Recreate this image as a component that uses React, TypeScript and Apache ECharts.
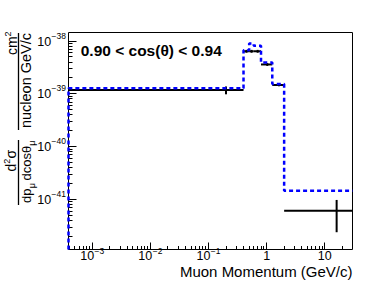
import React, { useEffect, useRef } from 'react';
import * as echarts from 'echarts';

// Histogram binning (GeV/c) and values (cm^2 / nucleon GeV/c)
const binEdges = [0, 0.4, 0.5, 0.6, 0.8, 1.25, 2, 30];
const dataCenters = [0.2, 0.45, 0.55, 0.7, 1.025, 1.625, 16];
const dataValues = [1.18e-39, 6.4e-39, 6.4e-39, 6.4e-39, 3.6e-39, 1.47e-39, 6.1e-42];
const dataErrors = [0.2e-39, 0.4e-39, 0.4e-39, 0.4e-39, 0.22e-39, 0.08e-39, 3.7e-42];
const mcValues = [1.27e-39, 6.7e-39, 9.0e-39, 8.1e-39, 3.9e-39, 1.53e-39, 1.46e-41];

const xMajorTicks = [1e-3, 1e-2, 1e-1, 1, 10];
const xTickBases = ['10', '10', '10', '1', '10'];
const xTickExps = ['\u22123', '\u22122', '\u22121', '', ''];
const yMajorTicks = [1e-41, 1e-40, 1e-39, 1e-38];
const yTickBases = ['10', '10', '10', '10'];
const yTickExps = ['\u221241', '\u221240', '\u221239', '\u221238'];

const X_MIN = 3.9e-4;
const X_MAX = 30;
const Y_MIN = 1.13e-42;
const Y_MAX = 1.45e-38;

const FONT = 'Liberation Sans, Arial, Helvetica, sans-serif';
const FB = 12.5; // tick label base size
const FE = 8.5; // exponent size

function strWidth(s: string, size: number) {
  let w = 0;
  for (const ch of s) w += ch === '\u2212' ? 0.584 : 0.556;
  return w * size;
}

function minorTicks(lo: number, hi: number, fromExp: number, toExp: number) {
  const out: number[] = [];
  for (let e = fromExp; e <= toExp; e++) {
    for (let k = 2; k <= 9; k++) {
      const v = k * Math.pow(10, e);
      if (v > lo && v < hi) out.push(v);
    }
  }
  return out;
}

export default function App() {
  const ref = useRef<HTMLDivElement>(null);
  useEffect(() => {
    if (!ref.current) return;
    const chart = echarts.init(ref.current, null, { renderer: 'svg' });

    const histPoints: number[][] = [[X_MIN, Y_MIN]];
    for (let i = 0; i < mcValues.length; i++) {
      const lo = i === 0 ? X_MIN : binEdges[i];
      histPoints.push([lo, mcValues[i]]);
      histPoints.push([binEdges[i + 1], mcValues[i]]);
    }

    const errData = dataValues.map((v, i) => [dataCenters[i], v, binEdges[i], binEdges[i + 1], dataErrors[i]]);

    const xTickData = [
      ...xMajorTicks.map((v) => [v, Y_MIN, 1]),
      ...minorTicks(X_MIN, X_MAX, -4, 1).map((v) => [v, Y_MIN, 0]),
    ];
    const yTickData = [
      ...yMajorTicks.map((v) => [X_MIN, v, 1]),
      ...minorTicks(Y_MIN, Y_MAX, -42, -39).map((v) => [X_MIN, v, 0]),
    ];

    const crisp = (x: number) => Math.round(x - 0.5) + 0.5;

    // y title (rotated group, local u along text, v across)
    const T = 14;
    const TD = 13;
    const TS = 9;
    const titleChildren: any[] = [];
    const txt = (u: number, v: number, text: string, size: number, align = 'left') => ({
      type: 'text',
      x: u,
      y: v,
      style: { text, fontSize: size, fontFamily: FONT, fill: '#000', align, verticalAlign: 'middle' },
    });
    // lower fraction
    titleChildren.push(txt(33.5, 11, 'd', T));
    titleChildren.push(txt(41.3, 7, '2', TS));
    titleChildren.push(txt(46.5, 11, '\u03c3', T));
    titleChildren.push({ type: 'line', shape: { x1: 0, y1: 18.5, x2: 65, y2: 18.5 }, style: { stroke: '#000', lineWidth: 1.3 } });
    titleChildren.push(txt(2, 26, 'dp', TD));
    titleChildren.push(txt(16.8, 31.5, '\u03bc', TS));
    titleChildren.push(txt(24.5, 26, 'dcos\u03b8', TD));
    titleChildren.push(txt(59.2, 31.5, '\u03bc', TS));
    // upper fraction
    titleChildren.push(txt(150, 12, 'cm', T));
    titleChildren.push(txt(168.5, 8, '2', TS));
    titleChildren.push({ type: 'line', shape: { x1: 75, y1: 18.5, x2: 172, y2: 18.5 }, style: { stroke: '#000', lineWidth: 1.3 } });
    titleChildren.push(txt(124.5, 26, 'nucleon GeV/c', 14.5, 'center'));

    chart.setOption({
      animation: false,
      grid: {
        left: 68.5,
        top: 32.5,
        right: 34.5,
        bottom: 33.5,
        show: true,
        borderColor: '#000',
        borderWidth: 1,
        backgroundColor: 'transparent',
      },
      xAxis: {
        type: 'log',
        logBase: 10,
        min: X_MIN,
        max: X_MAX,
        axisLine: { show: false },
        axisTick: { show: false },
        axisLabel: { show: false },
        splitLine: { show: false },
      },
      yAxis: {
        type: 'log',
        logBase: 10,
        min: Y_MIN,
        max: Y_MAX,
        axisLine: { show: false },
        axisTick: { show: false },
        axisLabel: { show: false },
        splitLine: { show: false },
      },
      graphic: [
        {
          type: 'group',
          x: 0,
          y: 205,
          rotation: Math.PI / 2,
          children: titleChildren,
        },
        {
          type: 'text',
          x: 80.7,
          y: 50.3,
          style: {
            text: '0.90 < cos(\u03b8) < 0.94',
            fontSize: 15.5,
            fontWeight: 'bold',
            fontFamily: FONT,
            fill: '#000',
            align: 'left',
            verticalAlign: 'middle',
          },
        },
        {
          type: 'text',
          x: 352.5,
          y: 271.5,
          style: {
            text: 'Muon Momentum (GeV/c)',
            fontSize: 15,
            fontFamily: FONT,
            fill: '#000',
            align: 'right',
            verticalAlign: 'middle',
          },
        },
      ],
      series: [
        {
          type: 'custom',
          name: 'xticks',
          coordinateSystem: 'cartesian2d',
          data: xTickData,
          encode: { x: 0, y: 1 },
          clip: false,
          silent: true,
          renderItem: (params: any, api: any) => {
            const p = api.coord([api.value(0), api.value(1)]);
            const len = api.value(2) ? 7 : 3.5;
            const x = crisp(p[0]);
            return { type: 'line', shape: { x1: x, y1: p[1], x2: x, y2: p[1] - len }, style: { stroke: '#000', lineWidth: 1 } };
          },
        },
        {
          type: 'custom',
          name: 'yticks',
          coordinateSystem: 'cartesian2d',
          data: yTickData,
          encode: { x: 0, y: 1 },
          clip: false,
          silent: true,
          renderItem: (params: any, api: any) => {
            const p = api.coord([api.value(0), api.value(1)]);
            const len = api.value(2) ? 8 : 4;
            const y = crisp(p[1]);
            return { type: 'line', shape: { x1: p[0], y1: y, x2: p[0] + len, y2: y }, style: { stroke: '#000', lineWidth: 1 } };
          },
        },
        {
          type: 'custom',
          name: 'xlabels',
          coordinateSystem: 'cartesian2d',
          data: xMajorTicks.map((v) => [v, Y_MIN]),
          encode: { x: 0, y: 1 },
          clip: false,
          silent: true,
          renderItem: (params: any, api: any) => {
            const i = params.dataIndex;
            const p = api.coord([api.value(0), api.value(1)]);
            const base = xTickBases[i];
            const exp = xTickExps[i];
            const wB = strWidth(base, FB);
            const wE = exp ? strWidth(exp, FE) + 0.5 : 0;
            const x0 = p[0] - (wB + wE) / 2;
            const children: any[] = [
              { type: 'text', x: x0, y: p[1] + 6.5, style: { text: base, fontSize: FB, fontFamily: FONT, fill: '#000', align: 'left', verticalAlign: 'middle' } },
            ];
            if (exp) {
              children.push({ type: 'text', x: x0 + wB + 0.5, y: p[1] + 1.5, style: { text: exp, fontSize: FE, fontFamily: FONT, fill: '#000', align: 'left', verticalAlign: 'middle' } });
            }
            return { type: 'group', children };
          },
        },
        {
          type: 'custom',
          name: 'ylabels',
          coordinateSystem: 'cartesian2d',
          data: yMajorTicks.map((v) => [X_MIN, v]),
          encode: { x: 0, y: 1 },
          clip: false,
          silent: true,
          renderItem: (params: any, api: any) => {
            const i = params.dataIndex;
            const p = api.coord([api.value(0), api.value(1)]);
            const base = yTickBases[i];
            const exp = yTickExps[i];
            const xr = p[0] - 2.5;
            const wE = strWidth(exp, FE);
            return {
              type: 'group',
              children: [
                { type: 'text', x: xr, y: p[1] - 5.5, style: { text: exp, fontSize: FE, fontFamily: FONT, fill: '#000', align: 'right', verticalAlign: 'middle' } },
                { type: 'text', x: xr - wE - 0.5, y: p[1] + 0.5, style: { text: base, fontSize: FB, fontFamily: FONT, fill: '#000', align: 'right', verticalAlign: 'middle' } },
              ],
            };
          },
        },
        {
          type: 'custom',
          name: 'data',
          coordinateSystem: 'cartesian2d',
          data: errData,
          encode: { x: 0, y: 1 },
          clip: false,
          renderItem: (params: any, api: any) => {
            const c = api.value(0);
            const v = api.value(1);
            const lo = Math.max(api.value(2), X_MIN);
            const hi = Math.min(api.value(3), X_MAX);
            const e = api.value(4);
            const a = api.coord([lo, v]);
            const b = api.coord([hi, v]);
            const t = api.coord([c, v + e]);
            const d = api.coord([c, Math.max(v - e, Y_MIN)]);
            return {
              type: 'group',
              children: [
                { type: 'line', shape: { x1: a[0], y1: a[1], x2: b[0], y2: b[1] }, style: { stroke: '#000', lineWidth: 2 } },
                { type: 'line', shape: { x1: t[0], y1: t[1], x2: d[0], y2: d[1] }, style: { stroke: '#000', lineWidth: 2 } },
              ],
            };
          },
        },
        {
          type: 'line',
          name: 'mc',
          data: histPoints,
          showSymbol: false,
          symbol: 'none',
          clip: false,
          silent: true,
          lineStyle: { color: '#0000ff', width: 2.5, type: [4, 3] },
        },
      ],
    });
    return () => chart.dispose();
  }, []);

  return (
    <div
      ref={ref}
      style={{ position: 'fixed', left: 0, top: 0, width: 387, height: 283, background: '#fff' }}
    />
  );
}
